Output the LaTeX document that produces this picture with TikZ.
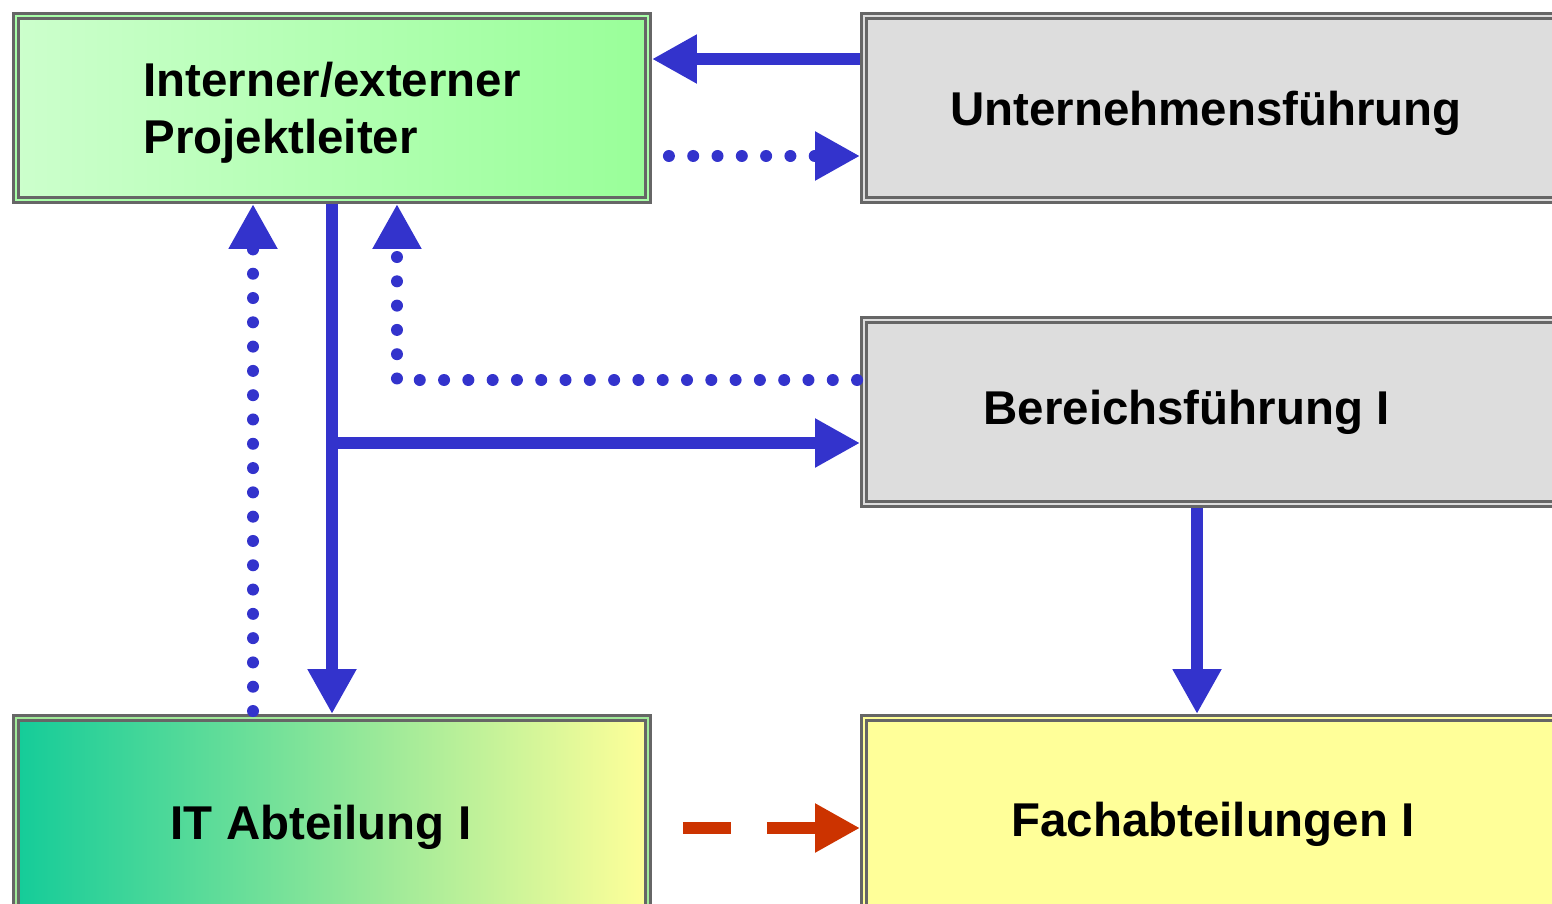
\documentclass[tikz,border=0pt]{standalone}
\usepackage{fontspec}
\setmainfont{Liberation Sans}
\usepackage{xcolor}
\usetikzlibrary{arrows.meta,positioning,calc}
\definecolor{flowblue}{HTML}{3333CC}
\definecolor{linkred}{HTML}{CC3300}
\definecolor{framegray}{HTML}{666666}
\definecolor{paneGray}{HTML}{DDDDDD}
\definecolor{paleGreen}{HTML}{CCFFCC}
\definecolor{lightGreen}{HTML}{99FF99}
\definecolor{tealGreen}{HTML}{14CC99}
\definecolor{paleYellow}{HTML}{FFFF99}

\begin{document}
\begin{tikzpicture}[x=0.02cm,y=-0.02cm,
	box/.style={draw=framegray, line width=0.06cm, double distance=0.04cm, inner sep=0pt, outer sep=0.08cm,
		minimum height=3.68cm},
	boxtext/.style={font=\fontsize{27}{32.4}\selectfont\bfseries, align=left},
	flow/.style={flowblue, line width=0.24cm, -{Triangle[length=0.9cm,width=0.92cm]}},
	info/.style={flow, line cap=round, dash pattern=on 0pt off 0.486cm},
	link/.style={linkred, line width=0.24cm, dash pattern=on 0.96cm off 0.72cm, -{Triangle[length=0.9cm,width=0.92cm]}}]
		\useasboundingbox (0,0) rectangle (1552,903);
		\clip (0,0) rectangle (1552,903);
		% boxes
		\node[box, minimum width=12.64cm, left color=paleGreen, right color=lightGreen, double=lightGreen!70!paleGreen,
			label={[boxtext, yshift=-0.1cm]center:Interner/externer\\Projektleiter}] (lead) at (332,108) {};
		\node[box, minimum width=14.24cm, fill=paneGray, double=paneGray,
			label={[boxtext, xshift=-0.28cm, yshift=-0.1cm]center:Unternehmensführung}] (board) at (1220,108) {};
		\node[box, minimum width=14.24cm, fill=paneGray, double=paneGray,
			label={[boxtext, xshift=-0.67cm]center:Bereichsführung I}] (division) at (1220,412) {};
		\node[box, minimum width=12.64cm, minimum height=4.16cm, left color=tealGreen, right color=paleYellow, double=tealGreen!40!paleYellow,
			label={[boxtext, xshift=-0.22cm, yshift=-0.1cm]center:IT Abteilung I}] (itdept) at (332,822) {};
		\node[box, minimum width=14.24cm, minimum height=4.16cm, fill=paleYellow, double=paleYellow,
			label={[boxtext, xshift=-0.14cm, yshift=-0.04cm]center:Fachabteilungen I}] (business) at (1220,822) {};
		% solid lines
		\draw[flow] ([yshift=0.98cm]board.west) -- ([yshift=0.98cm]board.west -| lead.east);
		\draw[flow] (lead.south) -- (itdept.north);
		\draw[flow] ([yshift=-0.62cm]division.west -| lead.south) -- ([yshift=-0.62cm]division.west);
		\draw[flow] ([xshift=-0.46cm]division.south) -- ([xshift=-0.46cm]business.north);
		% dotted lines
		\draw[info, shorten <=0.34cm] ([yshift=-0.96cm]lead.east) -- ([yshift=-0.96cm]lead.east -| board.west);
		\draw[info, shorten <=0.06cm] ([yshift=0.64cm]division.west) -| ([xshift=1.3cm]lead.south);
		\draw[info, shorten <=0.06cm] ([xshift=-1.58cm]itdept.north) -- ([xshift=-1.58cm]lead.south);
		% dashed line
		\draw[link, shorten <=0.62cm] ([yshift=-0.12cm]itdept.east) -- ([yshift=-0.12cm]business.west);
\end{tikzpicture}
\end{document}
